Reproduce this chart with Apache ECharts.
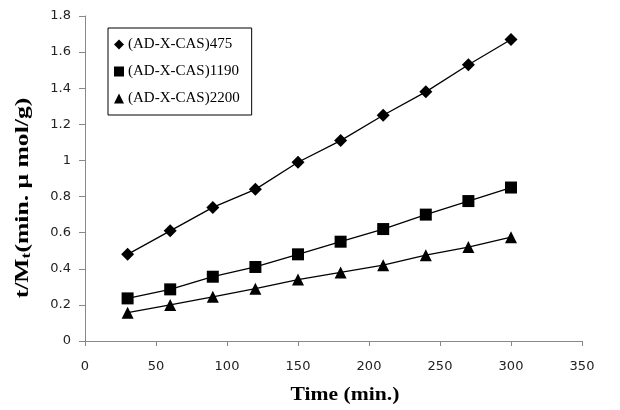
<!DOCTYPE html>
<html>
<head>
<meta charset="utf-8">
<script src="https://cdn.jsdelivr.net/npm/echarts@6/dist/echarts.min.js"></script>
<style>
  html, body { margin: 0; padding: 0; background: #fff; }
  #chart { width: 620px; height: 410px; }
</style>
</head>
<body>
<div id="chart"></div>
<script>
// time values (min.)
const times = [30, 60, 90, 120, 150, 180, 210, 240, 270, 300];
// t/Mt values
const cas475 = [0.48, 0.61, 0.74, 0.84, 0.99, 1.11, 1.25, 1.38, 1.53, 1.67];
const cas1190 = [0.236, 0.286, 0.356, 0.41, 0.48, 0.55, 0.62, 0.70, 0.775, 0.85];
const cas2200 = [0.157, 0.20, 0.245, 0.29, 0.34, 0.38, 0.42, 0.475, 0.52, 0.575];
const seriesNames = ["(AD-X-CAS)475", "(AD-X-CAS)1190", "(AD-X-CAS)2200"];
const seriesSymbols = ["diamond", "rect", "triangle"];

const myChart = echarts.init(document.getElementById("chart"));

function makeSeries(name, values, symbol, size) {
  return {
    name: name,
    type: "line",
    data: times.map((t, i) => [t, values[i]]),
    symbol: symbol,
    symbolSize: size,
    showAllSymbol: true,
    lineStyle: { color: "#000", width: 1.3 },
    itemStyle: { color: "#000" },
    emphasis: { disabled: true },
  };
}

const options = {
  animation: false,
  backgroundColor: "#fff",
  grid: { left: 85, right: 38, top: 16, bottom: 69 },
  legend: {
    orient: "vertical",
    left: 108,
    top: 28,
    padding: [9, 12, 9, 6],
    itemGap: 12,
    itemWidth: 10,
    itemHeight: 10,
    borderColor: "#000",
    borderWidth: 1,
    data: seriesNames.map((n, i) => ({ name: n, icon: seriesSymbols[i] })),
    itemStyle: { color: "#000" },
    textStyle: { fontFamily: "Liberation Serif", fontSize: 15, color: "#000", padding: [0, 0, 0, -1] },
  },
  xAxis: {
    type: "value",
    min: 0,
    max: 350,
    interval: 50,
    axisLine: { show: true, lineStyle: { color: "#888" } },
    axisTick: { show: true, length: 5, lineStyle: { color: "#888" } },
    axisLabel: { fontFamily: "DejaVu Sans", fontSize: 13, color: "#222", margin: 19 },
    splitLine: { show: false },
  },
  yAxis: {
    type: "value",
    min: 0,
    max: 1.8,
    interval: 0.2,
    axisLine: { show: true, lineStyle: { color: "#888" } },
    axisTick: { show: true, length: 6, lineStyle: { color: "#888" } },
    axisLabel: { fontFamily: "DejaVu Sans", fontSize: 13, color: "#222", margin: 14 },
    splitLine: { show: false },
  },
  graphic: [
    {
      // y axis title, stretched like in the source figure
      type: "text",
      x: 23,
      y: 198,
      rotation: Math.PI / 2,
      scaleX: 1.35,
      style: {
        text: "{a|t/M}{s|t}{a|(min. μ mol/g)}",
        align: "center",
        verticalAlign: "middle",
        rich: {
          a: { fontFamily: "Liberation Serif", fontWeight: "bold", fontSize: 19, fill: "#000" },
          s: { fontFamily: "Liberation Serif", fontWeight: "bold", fontSize: 13, fill: "#000", padding: [8, 0, 0, 0] },
        },
      },
    },
    {
      // x axis title
      type: "text",
      x: 345,
      y: 395,
      scaleX: 1.2,
      style: {
        text: "Time (min.)",
        align: "center",
        verticalAlign: "middle",
        fontFamily: "Liberation Serif",
        fontWeight: "bold",
        fontSize: 18,
        fill: "#000",
      },
    },
  ],
  series: [
    makeSeries(seriesNames[0], cas475, "diamond", 13),
    makeSeries(seriesNames[1], cas1190, "rect", 12),
    makeSeries(seriesNames[2], cas2200, "triangle", 12),
  ],
};

myChart.setOption(options);
</script>
</body>
</html>
